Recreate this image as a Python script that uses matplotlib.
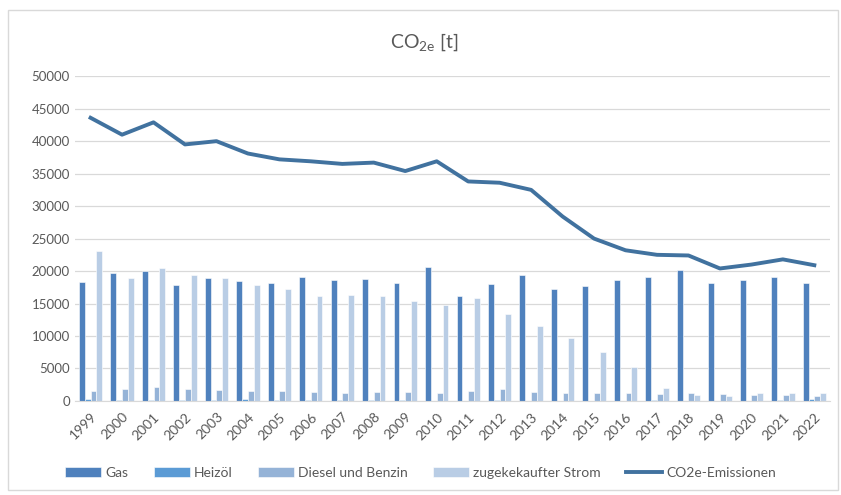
import matplotlib.pyplot as plt
import numpy as np
from matplotlib.patches import Rectangle

plt.rcParams["font.family"] = ["Lato", "DejaVu Sans"]

years = [str(y) for y in range(1999, 2023)]
gas = [18300, 19700, 20000, 17900, 18900, 18400, 18100, 19100, 18600, 18800,
       18200, 20600, 16100, 18000, 19400, 17300, 17700, 18600, 19100, 20100,
       18200, 18600, 19100, 18200]
heizoel = [250, 150, 150, 150, 150, 300, 100, 100, 150, 150,
           100, 50, 50, 150, 50, 0, 0, 0, 100, 50,
           0, 0, 200, 300]
diesel = [1600, 1900, 2100, 1800, 1700, 1600, 1600, 1400, 1300, 1400,
          1400, 1300, 1600, 1800, 1400, 1200, 1200, 1200, 1100, 1200,
          1100, 900, 900, 800]
strom = [23100, 18900, 20400, 19400, 18900, 17800, 17200, 16100, 16300, 16200,
         15400, 14800, 15900, 13400, 11600, 9700, 7500, 5300, 2000, 900,
         700, 1300, 1300, 1200]
co2e = [43600, 41000, 42900, 39500, 40000, 38100, 37200, 36900, 36500, 36700,
        35400, 36900, 33800, 33600, 32500, 28400, 25000, 23200, 22500, 22400,
        20400, 21000, 21800, 20900]

series = [("Gas", gas, "#4f81bd"),
          ("Heizöl", heizoel, "#5b9bd5"),
          ("Diesel und Benzin", diesel, "#95b3d7"),
          ("zugekekaufter Strom", strom, "#b9cde5")]

fig = plt.figure(figsize=(8.41, 4.95), dpi=100)
ax = fig.add_axes([0.089, 0.19, 0.898, 0.656])

x = np.arange(len(years))
w = 0.185
handles = []
for i, (name, vals, col) in enumerate(series):
    h = ax.bar(x + (i - 1.5) * w, vals, width=w, color=col, edgecolor="white",
               linewidth=0.4, label=name, zorder=2)
    handles.append(h)

line, = ax.plot(x, co2e, color="#41729f", linewidth=2.8, label="CO2e-Emissionen",
                zorder=3, solid_joinstyle="round")
handles.append(line)

ax.set_xlim(-0.5, len(years) - 0.5)
ax.set_ylim(0, 50000)
ax.set_yticks(range(0, 50001, 5000))
ax.set_xticks(x)
ax.set_xticklabels(years, rotation=45, ha="right", rotation_mode="anchor")
ax.tick_params(axis="both", length=0, labelsize=9.5, colors="#595959")
ax.tick_params(axis="x", pad=7, labelsize=10)
ax.grid(axis="y", color="#d9d9d9", linewidth=0.9, zorder=0)
ax.set_axisbelow(True)
for side in ["top", "right", "left"]:
    ax.spines[side].set_visible(False)
ax.spines["bottom"].set_color("#d9d9d9")

fig.text(0.505, 0.915, r"CO$_{\mathregular{2e}}$ [t]", ha="center", va="center",
         fontsize=14, color="#595959")

fig.legend(handles=handles, loc="center", bbox_to_anchor=(0.5, 0.045), ncol=5,
           frameon=False, fontsize=10, labelcolor="#595959", handlelength=2.6,
           handleheight=0.8, columnspacing=1.8, handletextpad=0.3)

fig.patches.append(Rectangle((0.009, 0.01), 0.988, 0.97, transform=fig.transFigure,
                             fill=False, edgecolor="#d9d9d9", linewidth=1))

fig.savefig("out.png", dpi=100)
